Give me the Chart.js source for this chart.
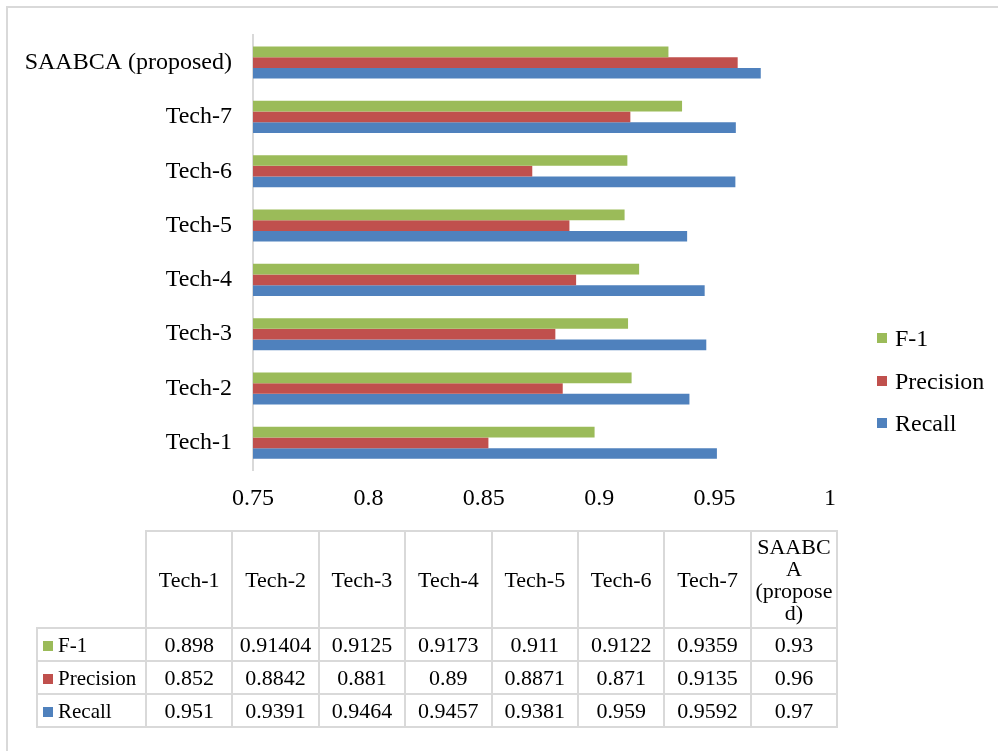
<!DOCTYPE html>
<html>
<head>
<meta charset="utf-8">
<script src="https://cdn.jsdelivr.net/npm/chart.js@4/dist/chart.umd.min.js"></script>
<style>
  html, body { margin: 0; padding: 0; background: #fff; }
  #wrap { position: relative; width: 998px; height: 751px; overflow: hidden; font-family: "Liberation Serif", "Times New Roman", serif; color: #000; }
  #frame { position: absolute; left: 6px; top: 6px; width: 1000px; height: 800px; border-top: 2px solid #d9d9d9; border-left: 2px solid #d9d9d9; box-sizing: border-box; }
  #chart { position: absolute; left: 0; top: 0; }
  #legend { position: absolute; left: 877px; top: 0; }
  .lg { position: absolute; left: 0; height: 30px; white-space: nowrap; font-size: 24px; line-height: 30px; }
  .lg i { position: absolute; left: 0; top: 10px; width: 10px; height: 10px; }
  .lg span { position: absolute; left: 18px; top: 0; }
  #tbl { position: absolute; left: 36px; top: 530px; border-collapse: collapse; table-layout: fixed; font-size: 22px; }
  #tbl td { border: 2px solid #d9d9d9; text-align: center; padding: 0; height: 31px; line-height: 22px; }
  #tbl tr.head td { height: 95px; }
  #tbl td.corner { border-top: none; border-left: none; }
  #tbl td.name { text-align: left; padding-left: 5px; white-space: nowrap; font-size: 21px; }
  #tbl td.name i { display: inline-block; width: 10px; height: 10px; margin-right: 5px; vertical-align: 1px; }
  #tbl td.wrap { overflow-wrap: anywhere; }
</style>
</head>
<body>
<div id="wrap">
  <div id="frame"></div>
  <canvas id="chart" width="998" height="751"></canvas>
  <div id="legend"></div>
  <table id="tbl"></table>
</div>
<script>
// Methods compared, bottom to top on the chart (left to right in the table)
const categories = ['Tech-1', 'Tech-2', 'Tech-3', 'Tech-4', 'Tech-5', 'Tech-6', 'Tech-7', 'SAABCA (proposed)'];
const tableHeaders = ['Tech-1', 'Tech-2', 'Tech-3', 'Tech-4', 'Tech-5', 'Tech-6', 'Tech-7', 'SAABCA (proposed)'];

// Metric scores per method
const f1Values = [0.898, 0.91404, 0.9125, 0.9173, 0.911, 0.9122, 0.9359, 0.93];
const precisionValues = [0.852, 0.8842, 0.881, 0.89, 0.8871, 0.871, 0.9135, 0.96];
const recallValues = [0.951, 0.9391, 0.9464, 0.9457, 0.9381, 0.959, 0.9592, 0.97];

// Printed text in the data table
const f1Text = ['0.898', '0.91404', '0.9125', '0.9173', '0.911', '0.9122', '0.9359', '0.93'];
const precisionText = ['0.852', '0.8842', '0.881', '0.89', '0.8871', '0.871', '0.9135', '0.96'];
const recallText = ['0.951', '0.9391', '0.9464', '0.9457', '0.9381', '0.959', '0.9592', '0.97'];

// Value axis ticks
const xTicks = [0.75, 0.8, 0.85, 0.9, 0.95, 1];
const xTickLabels = ['0.75', '0.8', '0.85', '0.9', '0.95', '1'];

const seriesNames = ['F-1', 'Precision', 'Recall'];
const seriesColors = ['#9BBB59', '#C0504D', '#4F81BD'];

const FONT = '"Liberation Serif", "Times New Roman", serif';

new Chart(document.getElementById('chart'), {
  type: 'bar',
  data: {
    labels: categories,
    datasets: [
      { label: seriesNames[0], data: f1Values, backgroundColor: seriesColors[0] },
      { label: seriesNames[1], data: precisionValues, backgroundColor: seriesColors[1] },
      { label: seriesNames[2], data: recallValues, backgroundColor: seriesColors[2] }
    ]
  },
  options: {
    indexAxis: 'y',
    responsive: false,
    animation: false,
    devicePixelRatio: 1,
    layout: { padding: { left: 0, top: 35, right: 168, bottom: 231 } },
    datasets: { bar: { categoryPercentage: 0.59, barPercentage: 1.0, borderWidth: 0 } },
    plugins: { legend: { display: false }, tooltip: { enabled: false } },
    scales: {
      x: {
        min: xTicks[0],
        max: xTicks[xTicks.length - 1],
        afterBuildTicks: (scale) => { scale.ticks = xTicks.map(v => ({ value: v })); },
        afterFit: (scale) => { scale.height = 50; },
        grid: { display: false, drawTicks: false, tickLength: 0 },
        border: { display: false },
        ticks: {
          padding: 14,
          color: '#000',
          font: { family: FONT, size: 24 },
          maxRotation: 0,
          autoSkip: false,
          callback: (value) => xTickLabels[xTicks.indexOf(value)]
        }
      },
      y: {
        reverse: true,
        afterFit: (scale) => { scale.width = 253; },
        grid: { display: false, drawTicks: false, tickLength: 0 },
        border: { display: true, color: '#d9d9d9', width: 2 },
        ticks: {
          padding: 21,
          color: '#000',
          font: { family: FONT, size: 24 },
          autoSkip: false
        }
      }
    }
  }
});

// Legend on the right
const legend = document.getElementById('legend');
const legendTops = [323, 366, 408];
seriesNames.forEach((name, i) => {
  const d = document.createElement('div');
  d.className = 'lg';
  d.style.top = legendTops[i] + 'px';
  d.innerHTML = '<i style="background:' + seriesColors[i] + '"></i><span>' + name + '</span>';
  legend.appendChild(d);
});

// Data table under the chart
const tbl = document.getElementById('tbl');
const colgroup = document.createElement('colgroup');
colgroup.innerHTML = '<col style="width:109px">' + tableHeaders.map(() => '<col style="width:86.4px">').join('');
tbl.appendChild(colgroup);
const head = document.createElement('tr');
head.className = 'head';
head.innerHTML = '<td class="corner"></td>' + tableHeaders.map((h, i) =>
  '<td' + (i === tableHeaders.length - 1 ? ' class="wrap"' : '') + '>' + h + '</td>').join('');
tbl.appendChild(head);
[f1Text, precisionText, recallText].forEach((row, r) => {
  const tr = document.createElement('tr');
  tr.innerHTML = '<td class="name"><i style="background:' + seriesColors[r] + '"></i>' + seriesNames[r] + '</td>' +
    row.map(v => '<td>' + v + '</td>').join('');
  tbl.appendChild(tr);
});
</script>
</body>
</html>
